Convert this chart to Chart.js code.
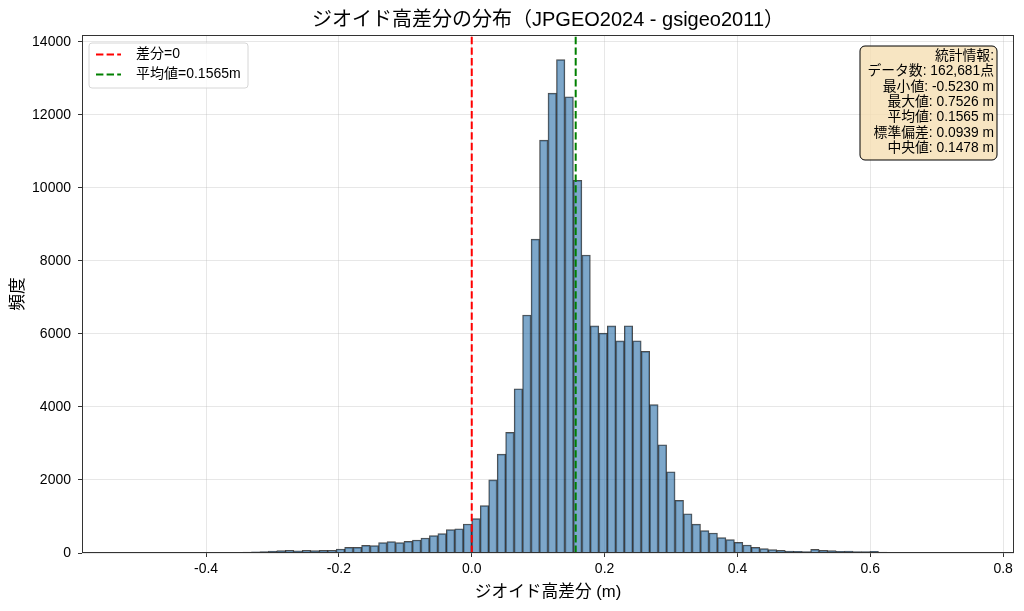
<!DOCTYPE html>
<html>
<head>
<meta charset="utf-8">
<script src="https://cdn.jsdelivr.net/npm/chart.js@4.4.1/dist/chart.umd.min.js"></script>
<style>
    body { margin: 0; background: #fff; }
    #wrap { width: 1024px; height: 611px; }
</style>
</head>
<body>
<div id="wrap"><canvas id="hist" width="1024" height="611"></canvas></div>
<script>
// 統計値 (ヒストグラムの範囲と100ビン)
const valueMin = -0.5230;
const valueMax = 0.7526;
const binCount = 100;
const meanValue = 0.1565;

// 各ビンの度数
const counts = [
    2, 0, 1, 1, 2, 2, 3, 4, 5, 6,
    8, 10, 15, 20, 22, 30, 40, 50, 65, 75,
    60, 75, 65, 70, 75, 110, 155, 155, 210, 200,
    285, 310, 285, 320, 355, 410, 475, 530, 640, 665,
    795, 940, 1297, 2005, 2710, 3305, 4500, 6520, 8600, 11310,
    12600, 13515, 12500, 10210, 8165, 6220, 6025, 6220, 5810, 6225,
    5815, 5525, 4065, 2965, 2225, 1443, 1075, 790, 612, 548,
    420, 365, 292, 219, 155, 119, 91, 73, 55, 46,
    37, 100, 73, 64, 46, 55, 37, 37, 46, 27,
    18, 10, 6, 4, 3, 2, 2, 1, 1, 1
];

const xTicks = [-0.4, -0.2, 0.0, 0.2, 0.4, 0.6, 0.8];
const yTicks = [0, 2000, 4000, 6000, 8000, 10000, 12000, 14000];

const statLines = [
    "統計情報:",
    "データ数: 162,681点",
    "最小値: -0.5230 m",
    "最大値: 0.7526 m",
    "平均値: 0.1565 m",
    "標準偏差: 0.0939 m",
    "中央値: 0.1478 m"
];

const legendItems = [
    { label: "差分=0", color: "red" },
    { label: "平均値=" + meanValue + "m", color: "green" }
];

const FONT = "'Liberation Sans', 'Noto Sans CJK JP', sans-serif";

const binWidth = (valueMax - valueMin) / binCount;
const bars = counts.map((c, i) => ({ x: valueMin + (i + 0.5) * binWidth, y: c }));
const pad = (valueMax - valueMin) * 0.05;
const yTop = Math.max(...counts) * 1.05;

const overlay = {
    id: "overlay",
    afterDraw(chart) {
        const ctx = chart.ctx;
        const a = chart.chartArea;
        ctx.save();

        // 枠線
        ctx.strokeStyle = "#333";
        ctx.lineWidth = 1;
        ctx.strokeRect(a.left + 0.5, a.top + 0.5, a.right - a.left - 1, a.bottom - a.top - 1);

        // タイトル
        ctx.fillStyle = "#000";
        ctx.font = "20px " + FONT;
        ctx.textAlign = "center";
        ctx.textBaseline = "middle";
        ctx.fillText("ジオイド高差分の分布（JPGEO2024 - gsigeo2011）", (a.left + a.right) / 2, 20);

        // 凡例
        const lx = a.left + 7, ly = a.top + 8;
        ctx.beginPath();
        ctx.roundRect(lx, ly, 159, 45, 3);
        ctx.fillStyle = "rgba(255,255,255,0.8)";
        ctx.fill();
        ctx.strokeStyle = "#d6d6d6";
        ctx.stroke();
        ctx.font = "14px " + FONT;
        ctx.textAlign = "left";
        legendItems.forEach((item, k) => {
            const yy = ly + 11.5 + k * 20;
            ctx.beginPath();
            ctx.setLineDash([7.4, 3.2]);
            ctx.strokeStyle = item.color;
            ctx.lineWidth = 2;
            ctx.moveTo(lx + 7, yy);
            ctx.lineTo(lx + 32, yy);
            ctx.stroke();
            ctx.setLineDash([]);
            ctx.fillStyle = "#000";
            ctx.fillText(item.label, lx + 47, yy);
        });

        // 統計情報ボックス
        const bw = 137, bh = 114;
        const bx = a.right - 17 - bw, by = a.top + 11;
        ctx.beginPath();
        ctx.roundRect(bx, by, bw, bh, 5);
        ctx.fillStyle = "rgba(245,222,179,0.8)";
        ctx.fill();
        ctx.strokeStyle = "#000";
        ctx.lineWidth = 1;
        ctx.stroke();
        ctx.fillStyle = "#000";
        ctx.font = "13.8px " + FONT;
        ctx.textAlign = "right";
        statLines.forEach((t, k) => {
            ctx.fillText(t, bx + bw - 3, by + 10 + k * 15.4);
        });
        ctx.restore();
    }
};

new Chart("hist", {
    type: "bar",
    data: {
        datasets: [
            {
                type: "line",
                label: legendItems[0].label,
                data: [{ x: 0, y: 0 }, { x: 0, y: yTop }],
                borderColor: "red",
                borderWidth: 2,
                borderDash: [7.4, 3.2],
                pointRadius: 0,
                order: 0
            },
            {
                type: "line",
                label: legendItems[1].label,
                data: [{ x: meanValue, y: 0 }, { x: meanValue, y: yTop }],
                borderColor: "green",
                borderWidth: 2,
                borderDash: [7.4, 3.2],
                pointRadius: 0,
                order: 0
            },
            {
                label: "度数",
                data: bars,
                backgroundColor: "rgba(70,130,180,0.7)",
                borderColor: "rgba(0,0,0,0.7)",
                borderWidth: 1,
                barPercentage: 1,
                categoryPercentage: 1,
                order: 1
            }
        ]
    },
    options: {
        responsive: false,
        animation: false,
        devicePixelRatio: 1,
        layout: { padding: { top: 35, right: 10, left: 4, bottom: 0 } },
        plugins: {
            legend: { display: false },
            title: { display: false },
            tooltip: { enabled: false }
        },
        scales: {
            x: {
                type: "linear",
                offset: false,
                min: valueMin - pad,
                max: valueMax + pad,
                afterBuildTicks: (s) => { s.ticks = xTicks.map(v => ({ value: v })); },
                afterFit: (s) => { s.height = 58; },
                ticks: {
                    color: "#000",
                    padding: 4,
                    font: { size: 14, family: FONT },
                    callback: (v) => v.toFixed(1)
                },
                grid: { offset: false, color: "rgba(176,176,176,0.3)", tickColor: "#333", tickLength: 4 },
                border: { display: false },
                title: {
                    display: true,
                    text: "ジオイド高差分 (m)",
                    color: "#000",
                    font: { size: 16.7, family: FONT },
                    padding: { top: 4, bottom: 9 }
                }
            },
            y: {
                min: 0,
                max: yTop,
                afterBuildTicks: (s) => { s.ticks = yTicks.map(v => ({ value: v })); },
                afterFit: (s) => { s.width = 78; },
                ticks: {
                    color: "#000",
                    padding: 7,
                    font: { size: 14, family: FONT },
                    callback: (v) => String(v)
                },
                grid: { color: "rgba(176,176,176,0.3)", tickColor: "#333", tickLength: 4 },
                border: { display: false },
                title: {
                    display: true,
                    text: "頻度",
                    color: "#000",
                    font: { size: 16.7, family: FONT },
                    padding: { top: 4, bottom: 4 }
                }
            }
        }
    },
    plugins: [overlay]
});
</script>
</body>
</html>
